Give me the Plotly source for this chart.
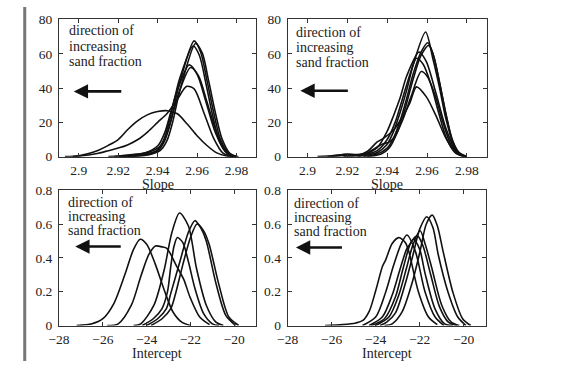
import plotly.graph_objects as go

W, H = 576, 369

# ---------------- data ----------------
# Top-left panel: slope densities
tl_x = [
    [2.893, 2.900, 2.905, 2.910, 2.915, 2.920, 2.925, 2.930, 2.935, 2.940, 2.945, 2.950, 2.955, 2.960, 2.965, 2.970, 2.975, 2.980],
    [2.897, 2.900, 2.905, 2.910, 2.915, 2.920, 2.925, 2.930, 2.935, 2.940, 2.945, 2.950, 2.9548, 2.9585, 2.9635, 2.9685, 2.973, 2.977, 2.980],
    [2.915, 2.925, 2.933, 2.9402, 2.9436, 2.9469, 2.9502, 2.956, 2.9601, 2.9643, 2.9693, 2.9743, 2.978],
    [2.918, 2.927, 2.935, 2.9412, 2.9446, 2.9477, 2.9510, 2.9567, 2.9608, 2.9650, 2.9700, 2.9750, 2.979],
    [2.922, 2.933, 2.9402, 2.9436, 2.9469, 2.9494, 2.9519, 2.9585, 2.9618, 2.9651, 2.9685, 2.9718, 2.9759, 2.980],
    [2.925, 2.935, 2.9412, 2.9446, 2.9478, 2.9503, 2.9528, 2.9592, 2.9626, 2.9659, 2.9693, 2.9726, 2.9766, 2.981],
    [2.920, 2.931, 2.9395, 2.9430, 2.9462, 2.9488, 2.9513, 2.9580, 2.9612, 2.9645, 2.9679, 2.9712, 2.9753, 2.979],
]
tl_y = [
    [0, 0.5, 1.8, 3.8, 6.6, 10, 16, 21, 24.5, 26.3, 26.8, 25, 19, 12.2, 6.5, 2.2, 0.4, 0],
    [0, 0.3, 1, 2, 3.5, 5, 7, 10, 14.5, 20, 25.5, 33.5, 41, 39.5, 25.5, 10.5, 2.2, 0.3, 0],
    [0, 1, 2, 6.5, 14, 27, 39.4, 53.5, 47.9, 32.8, 14, 3, 0.3],
    [0, 1, 2.5, 6, 13, 25, 38, 52, 47, 32, 14, 3, 0.3],
    [0, 1, 3.7, 9.4, 21.6, 34.8, 46, 67.5, 61, 44, 25.3, 10.3, 2, 0],
    [0, 1, 3.5, 9, 21, 34, 45, 66, 60.5, 44, 25.5, 10.5, 2, 0],
    [0, 1, 3.5, 9.5, 22, 35, 46, 64.5, 59, 42.5, 24, 9.5, 1.8, 0],
]

# Top-right panel: slope densities
tr_x = [
    [2.905, 2.912, 2.9186, 2.9251, 2.930, 2.935, 2.9383, 2.9432, 2.9481, 2.9514, 2.9547, 2.9596, 2.9645, 2.9695, 2.9744, 2.979],
    [2.910, 2.915, 2.920, 2.925, 2.930, 2.934, 2.938, 2.941, 2.944, 2.948, 2.952, 2.9571, 2.960, 2.964, 2.968, 2.972, 2.976, 2.980],
    [2.912, 2.920, 2.9284, 2.935, 2.9399, 2.9432, 2.9465, 2.9498, 2.956, 2.9596, 2.9645, 2.9695, 2.9744, 2.978],
    [2.918, 2.925, 2.930, 2.935, 2.940, 2.944, 2.948, 2.952, 2.9547, 2.958, 2.962, 2.966, 2.970, 2.974, 2.978],
    [2.925, 2.935, 2.9399, 2.9432, 2.9465, 2.9498, 2.9531, 2.9593, 2.9629, 2.9662, 2.9695, 2.9727, 2.976, 2.980],
    [2.928, 2.935, 2.940, 2.9432, 2.9465, 2.9498, 2.953, 2.957, 2.9604, 2.963, 2.966, 2.9695, 2.9727, 2.976, 2.980],
    [2.930, 2.937, 2.941, 2.945, 2.949, 2.953, 2.957, 2.9609, 2.9635, 2.9665, 2.970, 2.973, 2.976, 2.980],
]
tr_y = [
    [0, 0.5, 1.2, 0.8, 3, 8.6, 10.8, 15.5, 24, 31.3, 40.7, 35, 23.9, 10.8, 2.4, 0],
    [0, 0.8, 1.5, 1.2, 2, 5, 7.5, 8.5, 12, 22, 35, 49.6, 47, 36, 20, 7, 1.5, 0],
    [0, 0.8, 1.5, 5.3, 14.6, 23.9, 34.3, 47, 61, 55.5, 37, 16.5, 3.5, 0.5],
    [0, 0.5, 1.5, 3.5, 10, 20, 35, 50, 57.4, 54, 42, 25, 10, 2.5, 0.3],
    [0, 2.4, 7.1, 14.6, 25.7, 38.8, 53.7, 72.7, 57.4, 40.7, 22, 9.3, 2.4, 0],
    [0, 1.5, 5, 11, 21, 34, 48, 61, 66.4, 60, 45, 25, 10, 2.5, 0],
    [0, 1.5, 5, 14, 28, 45, 59, 64.9, 58, 42, 22, 8, 2, 0],
]

# Bottom-left panel: intercept densities
bl_x = [
    [-27.2, -26.5, -26.0, -25.5, -25.0, -24.6, -24.3, -24.0, -23.6, -23.2, -22.8, -22.4, -22.0],
    [-25.8, -25.3, -24.7, -24.27, -23.9, -23.6, -23.3, -23.07, -22.63, -22.3, -22.03, -21.58, -21.13],
    [-24.6, -24.27, -23.67, -23.2, -22.85, -22.5, -22.1, -21.73, -21.28, -20.84, -20.5],
    [-24.2, -23.7, -23.3, -23.05, -22.9, -22.75, -22.6, -22.35, -22.1, -21.8, -21.4, -21.0, -20.7],
    [-24.0, -23.5, -23.1, -22.9, -22.48, -22.1, -21.8, -21.5, -21.28, -20.84, -20.39, -19.94],
    [-23.8, -23.3, -22.9, -22.7, -22.35, -22.0, -21.7, -21.4, -21.15, -20.7, -20.25, -19.8],
]
bl_y = [
    [0, 0.01, 0.04, 0.13, 0.3, 0.45, 0.51, 0.48, 0.36, 0.21, 0.08, 0.02, 0],
    [0, 0.01, 0.12, 0.29, 0.42, 0.47, 0.465, 0.455, 0.35, 0.27, 0.17, 0.05, 0.005],
    [0, 0.01, 0.12, 0.33, 0.55, 0.665, 0.59, 0.34, 0.12, 0.02, 0],
    [0, 0.04, 0.1, 0.2, 0.35, 0.47, 0.52, 0.49, 0.38, 0.22, 0.07, 0.01, 0],
    [0, 0.04, 0.1, 0.19, 0.38, 0.55, 0.62, 0.57, 0.5, 0.25, 0.06, 0],
    [0, 0.04, 0.1, 0.18, 0.36, 0.52, 0.60, 0.56, 0.48, 0.24, 0.05, 0],
]

# Bottom-right panel: intercept densities
br_x = [
    [-26.3, -25.5, -24.9, -24.58, -24.29, -23.99, -23.69, -23.54, -23.25, -22.95, -22.65, -22.5, -22.06, -21.6, -21.2],
    [-24.6, -24.0, -23.54, -23.2, -22.85, -22.58, -22.2, -21.76, -21.3, -20.9],
    [-24.3, -23.7, -23.25, -22.9, -22.6, -22.45, -22.28, -22.0, -21.76, -21.31, -20.87, -20.5],
    [-24.0, -23.4, -22.95, -22.6, -22.3, -21.98, -21.75, -21.46, -21.0, -20.57, -20.2],
    [-23.8, -23.5, -23.1, -22.65, -22.3, -22.0, -21.68, -21.4, -21.16, -20.72, -20.27, -19.9],
    [-23.6, -23.25, -22.8, -22.35, -22.0, -21.7, -21.43, -21.2, -20.94, -20.5, -20.05, -19.68],
    [-24.2, -23.6, -23.1, -22.75, -22.4, -22.1, -21.85, -21.5, -21.1, -20.7, -20.3],
]
br_y = [
    [0, 0.005, 0.015, 0.03, 0.085, 0.21, 0.35, 0.39, 0.485, 0.52, 0.49, 0.44, 0.2, 0.05, 0.005],
    [0, 0.05, 0.2, 0.35, 0.48, 0.535, 0.44, 0.2, 0.05, 0],
    [0, 0.05, 0.18, 0.33, 0.45, 0.48, 0.51, 0.45, 0.31, 0.1, 0.01, 0],
    [0, 0.05, 0.18, 0.34, 0.48, 0.56, 0.48, 0.345, 0.12, 0.02, 0],
    [0, 0.02, 0.075, 0.25, 0.42, 0.57, 0.643, 0.58, 0.42, 0.2, 0.05, 0],
    [0, 0.01, 0.08, 0.25, 0.43, 0.6, 0.653, 0.59, 0.44, 0.2, 0.04, 0],
    [0, 0.04, 0.17, 0.34, 0.49, 0.53, 0.47, 0.3, 0.11, 0.02, 0],
]

slope_ticks = [2.9, 2.92, 2.94, 2.96, 2.98]
slope_labels = ["2.9", "2.92", "2.94", "2.96", "2.98"]
icpt_ticks = [-28, -26, -24, -22, -20]
icpt_labels = ["\u221228", "\u221226", "\u221224", "\u221222", "\u221220"]
dens_ticks_top = [0, 20, 40, 60, 80]
dens_ticks_bot = [0, 0.2, 0.4, 0.6, 0.8]
dens_labels_bot = ["0", "0.2", "0.4", "0.6", "0.8"]
note_lines = ["direction of", "increasing", "sand fraction"]

# ---------------- figure ----------------
FONT = "Liberation Serif, Times New Roman, serif"
fig = go.Figure()

panels = [
    (tl_x, tl_y, "x", "y"),
    (tr_x, tr_y, "x2", "y2"),
    (bl_x, bl_y, "x3", "y3"),
    (br_x, br_y, "x4", "y4"),
]
for xs, ys, xa, ya in panels:
    for cx, cy in zip(xs, ys):
        fig.add_trace(go.Scatter(x=cx, y=cy, mode="lines", xaxis=xa, yaxis=ya,
                                 line=dict(color="#111", width=1.6, shape="spline", smoothing=0.8),
                                 showlegend=False, hoverinfo="skip"))


def px2fx(px):
    return px / W


def px2fy(py):
    return 1 - py / H


# plot boxes (pixels)
boxes = {
    "tl": (49, 250, 13, 156),
    "tr": (282, 485, 13, 156),
    "bl": (49, 250, 191, 332),
    "br": (282, 484, 191, 332),
}

tick_font = dict(family=FONT, size=13.5, color="#222")
common_ax = dict(showline=True, mirror="allticks", linecolor="#333", linewidth=1,
                 ticks="inside", ticklen=4, tickcolor="#333", showgrid=False,
                 zeroline=False, tickfont=tick_font)

specs = {
    "tl": ("xaxis", "yaxis", "x", "y", [2.89, 2.99], [0, 80], slope_ticks, slope_labels, dens_ticks_top, [str(v) for v in dens_ticks_top]),
    "tr": ("xaxis2", "yaxis2", "x2", "y2", [2.89, 2.99], [0, 80], slope_ticks, slope_labels, dens_ticks_top, [str(v) for v in dens_ticks_top]),
    "bl": ("xaxis3", "yaxis3", "x3", "y3", [-28, -19], [0, 0.8], icpt_ticks, icpt_labels, dens_ticks_bot, dens_labels_bot),
    "br": ("xaxis4", "yaxis4", "x4", "y4", [-28, -19], [0, 0.8], icpt_ticks, icpt_labels, dens_ticks_bot, dens_labels_bot),
}
layout_axes = {}
for key, (xn, yn, xid, yid, xr, yr, xt, xl, yt, yl) in specs.items():
    x0, x1, y0, y1 = boxes[key]
    layout_axes[xn] = dict(common_ax, domain=[px2fx(x0), px2fx(x1)], range=xr,
                           tickvals=xt, ticktext=xl, anchor=yid, ticklabelstandoff=1)
    layout_axes[yn] = dict(common_ax, domain=[px2fy(y1), px2fy(y0)], range=yr,
                           tickvals=yt, ticktext=yl, anchor=xid, ticklabelstandoff=3)

fig.update_layout(**layout_axes)

ann = []
notes = [
    (57, [25, 41.5, 57], (64, 113, 88)),
    (288, [26.5, 42.3, 57.5], (295, 344, 87.3)),
    (56, [203.5, 218, 232.7], (65.5, 112.5, 249.7)),
    (286, [204.7, 219.5, 233.7], (290.5, 338, 250.7)),
]
for lx, lys, (hx, tx, ay) in notes:
    for txt, ly in zip(note_lines, lys):
        ann.append(dict(x=px2fx(lx), y=px2fy(ly), xref="paper", yref="paper", text=txt,
                        showarrow=False, xanchor="left", yanchor="middle",
                        font=dict(family=FONT, size=14, color="#222")))
    ann.append(dict(x=px2fx(hx), y=px2fy(ay), xref="paper", yref="paper", text="",
                    showarrow=True, axref="pixel", ayref="pixel", ax=tx - hx, ay=0,
                    arrowhead=2, arrowsize=1.1, arrowwidth=2.6, arrowcolor="#111", standoff=0))

for txt, cx, cy in [("Slope", 150, 184.5), ("Slope", 383, 184.5),
                    ("Intercept", 149, 361.5), ("Intercept", 383, 361.5)]:
    ann.append(dict(x=px2fx(cx), y=px2fy(cy), xref="paper", yref="paper", text=txt,
                    showarrow=False, xanchor="center", yanchor="middle",
                    font=dict(family=FONT, size=14, color="#222")))

fig.update_layout(
    width=W, height=H, margin=dict(l=0, r=0, t=0, b=0),
    paper_bgcolor="white", plot_bgcolor="white",
    annotations=ann,
    shapes=[dict(type="line", xref="paper", yref="paper", x0=px2fx(14), x1=px2fx(14),
                 y0=0, y1=1, line=dict(color="#777", width=3))],
)

fig.write_html("out.html",
               post_script="document.body.style.margin='0';document.body.style.overflow='hidden';")
